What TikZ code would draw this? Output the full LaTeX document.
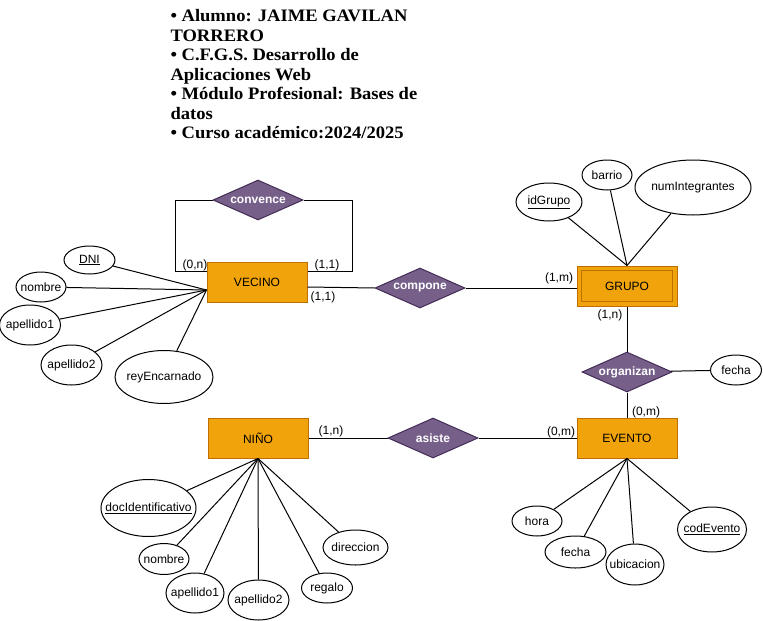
\documentclass[tikz,border=0pt]{standalone}
\usepackage{fontspec}
\setmainfont{Liberation Sans}
\newfontfamily\headfont[FakeStretch=1.06]{Liberation Serif}
\usetikzlibrary{shapes.geometric}

\definecolor{entfill}{HTML}{F0A30A}
\definecolor{entline}{HTML}{BD7000}
\definecolor{relfill}{HTML}{76608A}
\definecolor{relline}{HTML}{432D57}

\tikzset{
  entity/.style={draw=entline, fill=entfill, minimum width=100pt, minimum height=40pt, inner sep=0pt, font=\fontsize{12}{14}\selectfont},
  relation/.style={diamond, aspect=2.25, draw=relline, fill=relfill, text=white, minimum width=90pt, minimum height=40pt, inner sep=0pt, font=\bfseries\fontsize{12}{14}\selectfont},
  % text does not widen the ellipse
  attrib/.style={ellipse, draw, fill=white, inner sep=0pt, font=\fontsize{12}{14}\selectfont,
    execute at begin node={\hbox to 0pt\bgroup\hss}, execute at end node={\hss\egroup}},
  card/.style={inner sep=0pt, font=\fontsize{12}{14}\selectfont},
  header/.style={align=left, inner sep=0pt, font=\headfont\bfseries\fontsize{17.5}{19.5}\selectfont},
}

\begin{document}
\begin{tikzpicture}[x=1pt, y=-1pt, line width=1pt]
    \useasboundingbox (0,0) rectangle (763,621);

    % header
    \node[header, anchor=north west] (head) at (170,9) {• Alumno: JAIME GAVILAN\\
TORRERO\\
• C.F.G.S. Desarrollo de\\
Aplicaciones Web\\
• Módulo Profesional: Bases de\\
datos\\
• Curso académico:2024/2025};

    % entities
    \node[entity] (vecino) at (257,282) {VECINO};
    \node[entity] (grupo) at (627,286) {GRUPO};
    \draw[entline] ([shift={(5pt,5pt)}]grupo.south west) rectangle ([shift={(-5pt,-5pt)}]grupo.north east);
    \node[entity] (evento) at (627,438) {EVENTO};
    \node[entity] (nino) at (258,438) {NIÑO};

    % relations
    \node[relation] (convence) at (258,200) {convence};
    \node[relation] (compone) at (420,288) {compone};
    \node[relation] (organizan) at (627,372) {organizan};
    \node[relation] (asiste) at (433,438) {asiste};

    % VECINO attributes
    \coordinate (vecinoatt) at ([yshift=-8pt]vecino.west);
    \node[attrib, minimum width=51pt, minimum height=28pt] (dni) at (89.5,260) {\underline{DNI}};
    \node[attrib, minimum width=50pt, minimum height=30pt] (nombrev) at (41,287) {nombre};
    \node[attrib, minimum width=61pt, minimum height=40pt] (apellidov1) at (30,325) {apellido1};
    \node[attrib, minimum width=61pt, minimum height=40pt] (apellidov2) at (71.5,365) {apellido2};
    \node[attrib, minimum width=98pt, minimum height=53pt] (rey) at (164,377) {reyEncarnado};
    \foreach \a in {dni,nombrev,apellidov1,apellidov2,rey}
        \draw (\a) -- (vecinoatt);

    % GRUPO attributes
    \node[attrib, minimum width=66pt, minimum height=38pt] (idgrupo) at (549,202) {\underline{idGrupo}};
    \node[attrib, minimum width=50pt, minimum height=30pt] (barrio) at (607,175) {barrio};
    \node[attrib, minimum width=116pt, minimum height=55pt] (numint) at (693,187.5) {numIntegrantes};
    \foreach \a in {idgrupo,barrio,numint}
        \draw (\a) -- (grupo.north);

    % EVENTO attributes
    \node[attrib, minimum width=50pt, minimum height=30pt] (hora) at (537,521) {hora};
    \node[attrib, minimum width=61pt, minimum height=32pt] (fechae) at (575.5,552) {fecha};
    \node[attrib, minimum width=58pt, minimum height=41pt] (ubicacion) at (635,564.5) {ubicacion};
    \node[attrib, minimum width=69pt, minimum height=45pt] (codevento) at (712,529.5) {\underline{codEvento}};
    \foreach \a in {hora,fechae,ubicacion,codevento}
        \draw (\a) -- (evento.south);

    % NIÑO attributes
    \node[attrib, minimum width=95pt, minimum height=57pt] (docid) at (148.5,508) {\underline{docIdentificativo}};
    \node[attrib, minimum width=50pt, minimum height=31pt] (nombren) at (164,559) {nombre};
    \node[attrib, minimum width=58pt, minimum height=40pt] (apellidon1) at (195,593) {apellido1};
    \node[attrib, minimum width=61pt, minimum height=40pt] (apellidon2) at (258.5,600) {apellido2};
    \node[attrib, minimum width=51pt, minimum height=30pt] (regalo) at (327,588) {regalo};
    \node[attrib, minimum width=65pt, minimum height=35pt] (direccion) at (355.5,547.5) {direccion};
    \foreach \a in {docid,nombren,apellidon1,apellidon2,regalo,direccion}
        \draw (\a) -- (nino.south);

    % fecha of organizan
    \node[attrib, minimum width=51pt, minimum height=30pt] (fechao) at (736,370) {fecha};

    % connectors
    \draw (convence.west) -- ++(-37,0) |- ([yshift=11pt]vecino.west);
    \draw (convence.east) -- ++(49,0) |- ([yshift=11pt]vecino.east);
    \draw ([yshift=-5pt]vecino.east) -- (compone.west);
    \draw (compone.east) -- (compone.east -| grupo.west);
    \draw (grupo) -- (organizan);
    \draw (organizan) -- (evento);
    \draw (organizan) -- (fechao);
    \draw (nino) -- (asiste);
    \draw (asiste) -- (evento);

    % cardinalities
    \node[card] (cconva) at (195,265) {(0,n)};
    \node[card] (cconvb) at (327,265) {(1,1)};
    \node[card] (ccompa) at (323,297) {(1,1)};
    \node[card] (ccompb) at (559,278) {(1,m)};
    \node[card] (corga) at (610,315) {(1,n)};
    \node[card] (corgb) at (646,412) {(0,m)};
    \node[card] (casia) at (331,431) {(1,n)};
    \node[card] (casib) at (561,432) {(0,m)};

\end{tikzpicture}
\end{document}
